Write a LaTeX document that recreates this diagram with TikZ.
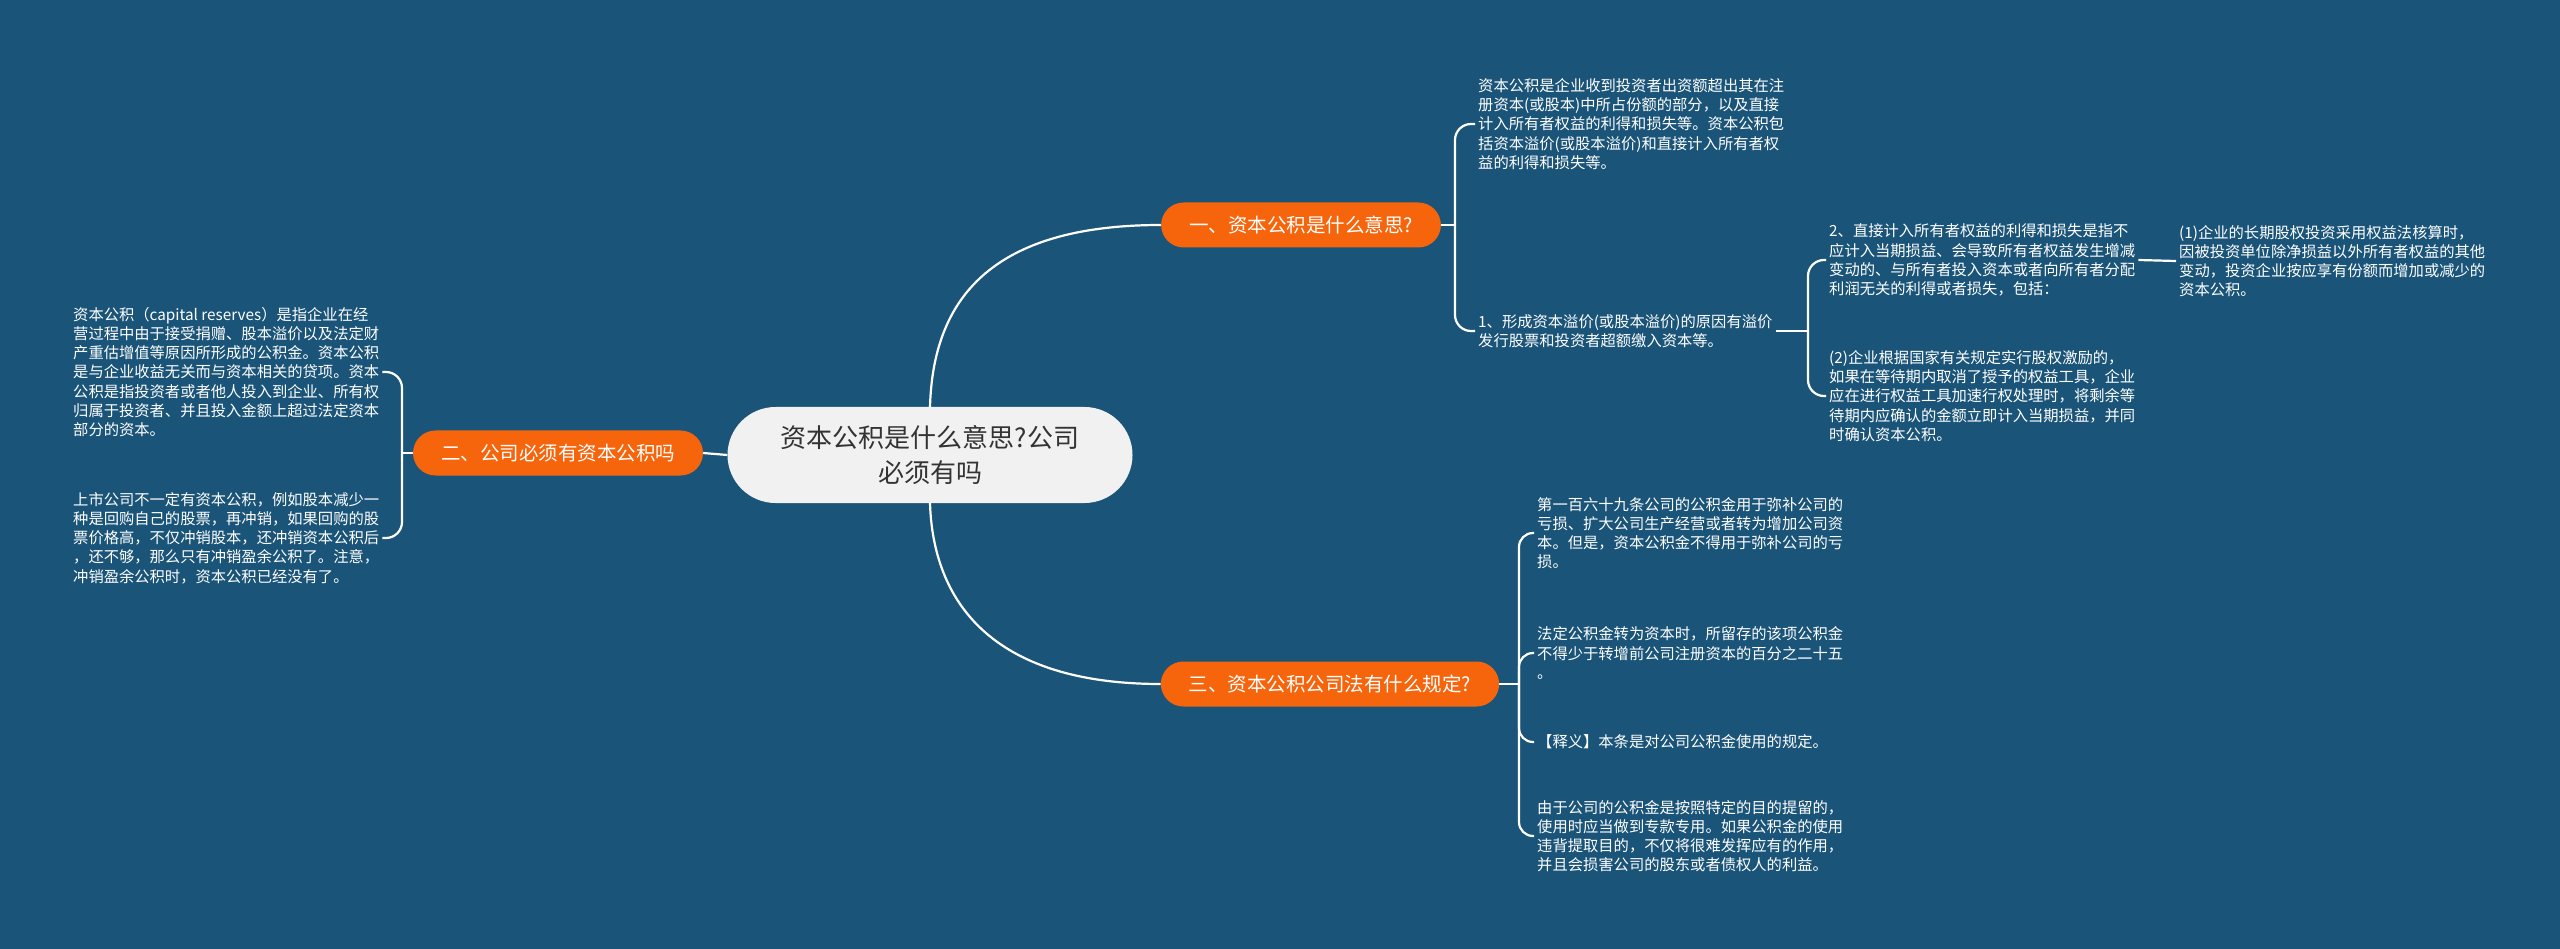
\documentclass[tikz,border=0pt]{standalone}
\usepackage{fontspec}
\usepackage{tikz}
\usetikzlibrary{positioning}
\newfontfamily\cjk{Noto Sans CJK SC}
\definecolor{mapblue}{RGB}{26,84,120}
\definecolor{maporange}{RGB}{246,101,12}
\definecolor{rootgray}{RGB}{241,241,241}
\definecolor{roottext}{RGB}{51,51,51}

\begin{document}
\begin{tikzpicture}[x=1pt, y=-1pt]
\tikzstyle{root}=[fill=rootgray, text=roottext, rounded corners=48pt, minimum width=405pt, minimum height=96pt, align=center, font=\cjk\fontsize{26}{35}\selectfont]
\tikzstyle{topic}=[fill=maporange, text=white, rounded corners=22.5pt, minimum height=45pt, inner xsep=28pt, font=\cjk\fontsize{19.5}{24}\selectfont]
\tikzstyle{leaf}=[text=white, align=left, inner sep=3pt, font=\cjk\fontsize{15.3}{19.2}\selectfont]
\tikzstyle{link}=[draw=white, line width=2.2pt, rounded corners=16pt]
\fill[mapblue] (0,0) rectangle (2560,949);
\node[root] (root) at (930,455) {资本公积是什么意思?公司\\必须有吗};
\node[topic] (what) at (1301,225) {一、资本公积是什么意思?};
\node[topic] (must) at (558,453) {二、公司必须有资本公积吗};
\node[topic] (law) at (1330,684) {三、资本公积公司法有什么规定?};
\node[leaf, anchor=west] (define) at (1475,124) {资本公积是企业收到投资者出资额超出其在注\\册资本(或股本)中所占份额的部分，以及直接\\计入所有者权益的利得和损失等。资本公积包\\括资本溢价(或股本溢价)和直接计入所有者权\\益的利得和损失等。};
\node[leaf, anchor=west] (premium) at (1475,331) {1、形成资本溢价(或股本溢价)的原因有溢价\\发行股票和投资者超额缴入资本等。};
\node[leaf, anchor=west] (gains) at (1826,260) {2、直接计入所有者权益的利得和损失是指不\\应计入当期损益、会导致所有者权益发生增减\\变动的、与所有者投入资本或者向所有者分配\\利润无关的利得或者损失，包括：};
\node[leaf, anchor=west] (equity) at (2176,261) {(1)企业的长期股权投资采用权益法核算时，\\因被投资单位除净损益以外所有者权益的其他\\变动，投资企业按应享有份额而增加或减少的\\资本公积。};
\node[leaf, anchor=west] (incentive) at (1826,396) {(2)企业根据国家有关规定实行股权激励的，\\如果在等待期内取消了授予的权益工具，企业\\应在进行权益工具加速行权处理时，将剩余等\\待期内应确认的金额立即计入当期损益，并同\\时确认资本公积。};
\node[leaf, anchor=west] (reserves) at (70,372) {资本公积（capital reserves）是指企业在经\\营过程中由于接受捐赠、股本溢价以及法定财\\产重估增值等原因所形成的公积金。资本公积\\是与企业收益无关而与资本相关的贷项。资本\\公积是指投资者或者他人投入到企业、所有权\\归属于投资者、并且投入金额上超过法定资本\\部分的资本。};
\node[leaf, anchor=west] (listed) at (70,538) {上市公司不一定有资本公积，例如股本减少一\\种是回购自己的股票，再冲销，如果回购的股\\票价格高，不仅冲销股本，还冲销资本公积后\\，还不够，那么只有冲销盈余公积了。注意，\\冲销盈余公积时，资本公积已经没有了。};
\node[leaf, anchor=west] (art169) at (1534,533) {第一百六十九条公司的公积金用于弥补公司的\\亏损、扩大公司生产经营或者转为增加公司资\\本。但是，资本公积金不得用于弥补公司的亏\\损。};
\node[leaf, anchor=west] (statutory) at (1534,653) {法定公积金转为资本时，所留存的该项公积金\\不得少于转增前公司注册资本的百分之二十五\\。};
\node[leaf, anchor=west] (note) at (1534,742) {【释义】本条是对公司公积金使用的规定。};
\node[leaf, anchor=west] (purpose) at (1534,836) {由于公司的公积金是按照特定的目的提留的，\\使用时应当做到专款专用。如果公积金的使用\\违背提取目的，不仅将很难发挥应有的作用，\\并且会损害公司的股东或者债权人的利益。};
\coordinate (whatj) at (1455,225);
\coordinate (mustj) at (402,453);
\coordinate (lawj) at (1519,684);
\coordinate (premiumj) at (1808,331);
\draw[link] (root.north) .. controls (933,300) and (990,225) .. (what.west);
\draw[link] (root.south) .. controls (933,600) and (990,684) .. (law.west);
\draw[link] (root.west) -- (must.east);
\draw[link] (what.east) -- (whatj);
\draw[link] (whatj) |- (define.west);
\draw[link] (whatj) |- (premium.west);
\draw[link] (premium.east) -- (premiumj);
\draw[link] (premiumj) |- (gains.west);
\draw[link] (premiumj) |- (incentive.west);
\draw[link] (gains.east) -- (equity.west);
\draw[link] (must.west) -- (mustj);
\draw[link] (mustj) |- (reserves.east);
\draw[link] (mustj) |- (listed.east);
\draw[link, rounded corners=14pt] (law.east) -- (lawj);
\draw[link, rounded corners=14pt] (lawj) |- (art169.west);
\draw[link, rounded corners=14pt] (lawj) |- (statutory.west);
\draw[link, rounded corners=14pt] (lawj) |- (note.west);
\draw[link, rounded corners=14pt] (lawj) |- (purpose.west);
\end{tikzpicture}
\end{document}
